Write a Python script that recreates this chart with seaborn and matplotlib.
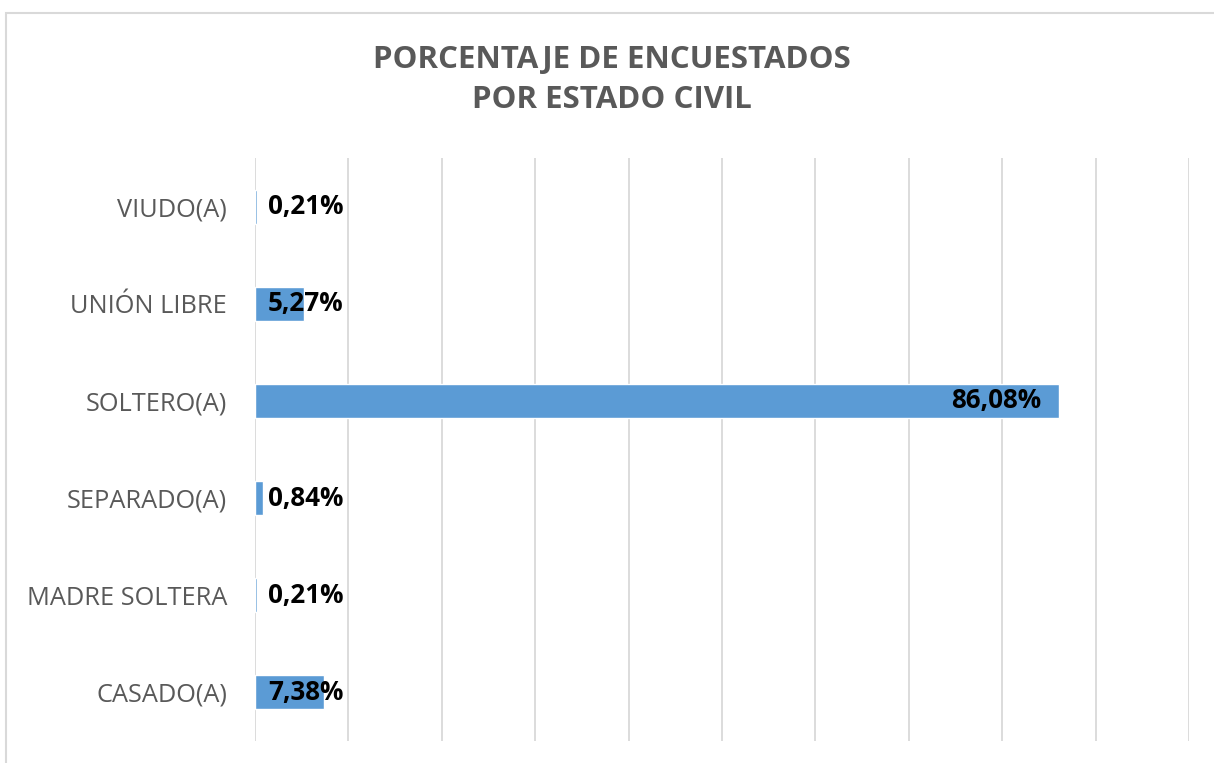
import matplotlib
matplotlib.use("Agg")
import matplotlib.pyplot as plt
import seaborn as sns
import pandas as pd
from matplotlib.patches import Rectangle

categories = ["VIUDO(A)", "UNIÓN LIBRE", "SOLTERO(A)", "SEPARADO(A)", "MADRE SOLTERA", "CASADO(A)"]
values = [0.21, 5.27, 86.08, 0.84, 0.21, 7.38]
labels = ["0,21%", "5,27%", "86,08%", "0,84%", "0,21%", "7,38%"]
title = "PORCENTAJE DE ENCUESTADOS\nPOR ESTADO CIVIL"

sns.set_theme(style="white")
plt.rcParams["font.family"] = ["Open Sans", "DejaVu Sans"]

df = pd.DataFrame({"cat": categories, "val": values})

fig = plt.figure(figsize=(12.14, 7.63), dpi=100)
ax = fig.add_axes([255/1214, 1-741/763, (1189-255)/1214, (741-158)/763])

sns.barplot(data=df, x="val", y="cat", orient="h", color="#5B9BD5", width=0.35,
            saturation=1, ax=ax, zorder=3)

ax.set_xlim(0, 100)
ax.set_xticks(range(0, 101, 10))
ax.set_xticklabels([])
ax.tick_params(axis="x", length=0)
ax.tick_params(axis="y", length=0, pad=20, labelsize=18.3, labelcolor="#595959")
ax.grid(axis="x", color="#D9D9D9", linewidth=1.3, zorder=0)
ax.grid(axis="y", visible=False)
for s in ax.spines.values():
    s.set_visible(False)
ax.set_xlabel("")
ax.set_ylabel("")

for i, (v, lab) in enumerate(zip(values, labels)):
    if v > 20:
        ax.text(v - 1.95, i, lab, ha="right", va="center", fontsize=18.7, fontweight="bold",
                color="black", zorder=4)
    else:
        ax.text(1.4, i, lab, ha="left", va="center", fontsize=18.7, fontweight="bold",
                color="black", zorder=4)

fig.text(612/1214, 1-80/763, title, ha="center", va="center", fontsize=22.5,
         fontweight="bold", color="#595959", linespacing=1.45)

fig.patches.append(Rectangle((6/1214, -0.05), 1.1, 1-13/763+0.05, transform=fig.transFigure,
                             fill=False, edgecolor="#D9D9D9", linewidth=1.5, zorder=0))

fig.savefig("out.png", dpi=100, facecolor="white")
